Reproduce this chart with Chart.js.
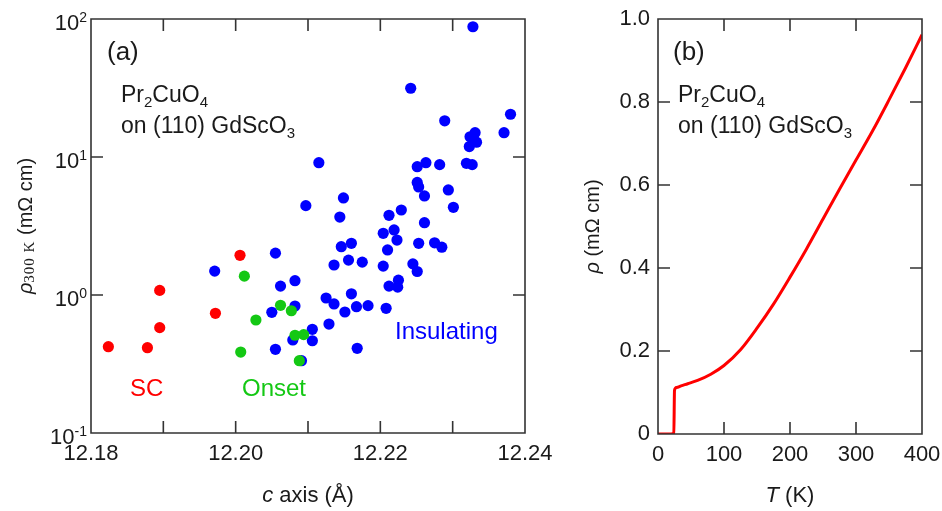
<!DOCTYPE html>
<html>
<head>
<meta charset="utf-8">
<script src="https://cdn.jsdelivr.net/npm/chart.js@4.4.0/dist/chart.umd.min.js"></script>
<style>
  html, body { margin: 0; padding: 0; background: #fff; }
  #wrap { position: relative; width: 942px; height: 511px; }
  #chartA { position: absolute; left: 0; top: 0; }
  #chartB { position: absolute; left: 545px; top: 0; }
</style>
</head>
<body>
<div id="wrap">
  <canvas id="chartA" width="565" height="511"></canvas>
  <canvas id="chartB" width="397" height="511"></canvas>
</div>
<script>
// (a) c axis length vs room temperature resistivity
const scX = [12.1824, 12.1878, 12.1895, 12.1895, 12.1972, 12.2006];
const scY = [0.422, 0.415, 0.580, 1.08, 0.737, 1.94];

const onsetX = [12.2007, 12.2012, 12.2028, 12.2062, 12.2077, 12.2082, 12.2088, 12.2094];
const onsetY = [0.386, 1.37, 0.659, 0.842, 0.769, 0.511, 0.334, 0.516];

const insX = [12.1971, 12.2050, 12.2055, 12.2055, 12.2062, 12.2079, 12.2082, 12.2082,
  12.2091, 12.2097, 12.2106, 12.2106, 12.2115, 12.2125, 12.2129, 12.2136, 12.2136,
  12.2144, 12.2146, 12.2149, 12.2151, 12.2156, 12.2160, 12.2160, 12.2167, 12.2168,
  12.2175, 12.2183, 12.2204, 12.2204, 12.2208, 12.2210, 12.2212, 12.2212, 12.2219,
  12.2223, 12.2224, 12.2225, 12.2229, 12.2242, 12.2245, 12.2251, 12.2251, 12.2251,
  12.2253, 12.2253, 12.2261, 12.2261, 12.2263, 12.2275, 12.2282, 12.2285, 12.2289,
  12.2294, 12.2301, 12.2319, 12.2323, 12.2324, 12.2327, 12.2328, 12.2331, 12.2333,
  12.2371, 12.2380];
const insY = [1.49, 0.749, 2.01, 0.404, 1.16, 0.472, 1.27, 0.832,
  0.334, 4.44, 0.564, 0.466, 9.09, 0.951, 0.616, 1.65, 0.861,
  3.67, 2.24, 5.05, 0.753, 1.79, 2.37, 1.02, 0.823, 0.411,
  1.73, 0.837, 2.80, 1.62, 0.801, 2.12, 3.78, 1.16, 2.96,
  2.50, 1.14, 1.28, 4.13, 31.5, 1.68, 8.51, 6.54, 1.48,
  6.06, 2.37, 5.22, 3.34, 9.09, 2.39, 8.80, 2.22, 18.3,
  5.77, 4.32, 9.0, 11.9, 14.0, 8.80, 87.9, 15.0, 12.8,
  15.0, 20.4];

const cAxisTicks = [12.18, 12.19, 12.20, 12.21, 12.22, 12.23, 12.24];
const cAxisLabels = ['12.18', '', '12.20', '', '12.22', '', '12.24'];
const rhoDecades = [0.1, 1, 10, 100];
const rhoDecadeExp = ['-1', '0', '1', '2'];

// (b) resistivity vs temperature
const tempK = [0, 10, 20, 24, 25, 28, 35, 45, 60, 80, 100, 125, 150, 175, 200,
  225, 250, 275, 300, 325, 350, 375, 400];
const rhoT = [0, 0, 0, 0.002, 0.105, 0.112, 0.116, 0.121, 0.129, 0.144, 0.165,
  0.203, 0.255, 0.313, 0.378, 0.446, 0.518, 0.590, 0.660, 0.730, 0.805, 0.882, 0.962];

const tTicks = [0, 100, 200, 300, 400];
const rhoTicks = [0, 0.2, 0.4, 0.6, 0.8, 1.0];
const rhoTickLabels = ['0', '0.2', '0.4', '0.6', '0.8', '1.0'];

const SANS = '"Liberation Sans", Arial, sans-serif';
const SERIF = '"Liberation Serif", "Times New Roman", serif';
const INK = '#1a1a1a';

function richText(ctx, parts, x, y, align) {
  let w = 0;
  parts.forEach(p => {
    ctx.font = p.font;
    ctx.letterSpacing = p.spacing || '0px';
    w += ctx.measureText(p.text).width;
  });
  let cx = align === 'center' ? x - w / 2 : align === 'right' ? x - w : x;
  ctx.textAlign = 'left';
  ctx.textBaseline = 'alphabetic';
  parts.forEach(p => {
    ctx.font = p.font;
    ctx.letterSpacing = p.spacing || '0px';
    ctx.fillStyle = p.color || INK;
    ctx.fillText(p.text, cx, y + (p.dy || 0));
    cx += ctx.measureText(p.text).width;
  });
  ctx.letterSpacing = '0px';
}

function sampleLabel(ctx, x, y) {
  richText(ctx, [
    { text: 'Pr', font: '23px ' + SANS },
    { text: '2', font: '15px ' + SANS, dy: 5 },
    { text: 'CuO', font: '23px ' + SANS },
    { text: '4', font: '15px ' + SANS, dy: 5 }
  ], x, y, 'left');
  richText(ctx, [
    { text: 'on (110) GdScO', font: '23px ' + SANS },
    { text: '3', font: '15px ' + SANS, dy: 5 }
  ], x, y + 31, 'left');
}

// box round the plot area, with inward ticks on all four sides
function drawFrame(chart) {
  const { ctx, chartArea: a } = chart;
  const x = chart.scales.x, y = chart.scales.y;
  ctx.save();
  ctx.strokeStyle = '#333333';
  ctx.lineWidth = 1.6;
  ctx.beginPath();
  ctx.rect(a.left, a.top, a.right - a.left, a.bottom - a.top);
  x.ticks.forEach(t => {
    const px = x.getPixelForValue(t.value);
    ctx.moveTo(px, a.bottom); ctx.lineTo(px, a.bottom - 12);
    ctx.moveTo(px, a.top); ctx.lineTo(px, a.top + 12);
  });
  y.ticks.forEach(t => {
    const py = y.getPixelForValue(t.value);
    ctx.moveTo(a.left, py); ctx.lineTo(a.left + 12, py);
    ctx.moveTo(a.right, py); ctx.lineTo(a.right - 12, py);
  });
  ctx.stroke();
  ctx.restore();
}

const textA = {
  id: 'textA',
  afterDraw(chart) {
    drawFrame(chart);
    const { ctx, chartArea: a } = chart;
    const y = chart.scales.y;
    ctx.save();
    // decade tick labels with superscripts
    y.ticks.forEach((t, i) => {
      const py = y.getPixelForValue(t.value);
      richText(ctx, [
        { text: '10', font: '22px ' + SANS },
        { text: rhoDecadeExp[i], font: '14px ' + SANS, dy: -8 }
      ], a.left - 4, py + 11, 'right');
    });
    richText(ctx, [{ text: '(a)', font: '26px ' + SANS }], 107, 60, 'left');
    sampleLabel(ctx, 121, 102);
    richText(ctx, [{ text: 'SC', font: '24px ' + SANS, color: '#ff0000' }], 130, 396, 'left');
    richText(ctx, [{ text: 'Onset', font: '24px ' + SANS, color: '#14c814' }], 242, 396, 'left');
    richText(ctx, [{ text: 'Insulating', font: '24px ' + SANS, color: '#0000ff' }], 395, 339, 'left');
    richText(ctx, [
      { text: 'c', font: 'italic 22px ' + SANS },
      { text: ' axis (Å)', font: '22px ' + SANS }
    ], (a.left + a.right) / 2, 502, 'center');
    ctx.translate(32, (a.top + a.bottom) / 2);
    ctx.rotate(-Math.PI / 2);
    richText(ctx, [
      { text: 'ρ', font: 'italic 20px ' + SANS },
      { text: '300 K', font: '15px ' + SERIF, dy: 2, spacing: '1px' },
      { text: ' (mΩ cm)', font: '20px ' + SANS }
    ], 0, 0, 'center');
    ctx.restore();
  }
};

const textB = {
  id: 'textB',
  afterDraw(chart) {
    drawFrame(chart);
    const { ctx, chartArea: a } = chart;
    ctx.save();
    richText(ctx, [{ text: '(b)', font: '26px ' + SANS }], a.left + 15, 60, 'left');
    sampleLabel(ctx, a.left + 20, 102);
    richText(ctx, [
      { text: 'T', font: 'italic 22px ' + SANS },
      { text: ' (K)', font: '22px ' + SANS }
    ], (a.left + a.right) / 2, 502, 'center');
    ctx.translate(a.left - 59, (a.top + a.bottom) / 2);
    ctx.rotate(-Math.PI / 2);
    richText(ctx, [
      { text: 'ρ', font: 'italic 20px ' + SANS },
      { text: ' (mΩ cm)', font: '20px ' + SANS }
    ], 0, 0, 'center');
    ctx.restore();
  }
};

const toPoints = (xs, ys) => xs.map((v, i) => ({ x: v, y: ys[i] }));
const noGrid = { display: false, drawTicks: false };

// fixed axis sizes; drop the extra room Chart.js keeps for overhanging labels
const fitX = h => s => { s.height = h; s.paddingLeft = 0; s.paddingRight = 0; };
const fitY = w => s => { s.width = w; s.paddingTop = 0; s.paddingBottom = 0; };

new Chart(document.getElementById('chartA').getContext('2d'), {
  type: 'scatter',
  data: {
    datasets: [
      { label: 'Onset', data: toPoints(onsetX, onsetY), backgroundColor: '#14c814', order: 1 },
      { label: 'SC', data: toPoints(scX, scY), backgroundColor: '#ff0000', order: 2 },
      { label: 'Insulating', data: toPoints(insX, insY), backgroundColor: '#0000ff', order: 3 }
    ]
  },
  options: {
    responsive: false,
    animation: false,
    layout: { padding: { left: 0, right: 40, top: 19, bottom: 0 } },
    elements: { point: { radius: 5.6, borderWidth: 0, hoverRadius: 5.6 } },
    plugins: { legend: { display: false }, tooltip: { enabled: false } },
    scales: {
      x: {
        type: 'linear', min: 12.18, max: 12.24,
        afterBuildTicks: s => { s.ticks = cAxisTicks.map(v => ({ value: v })); },
        afterFit: fitX(78),
        grid: noGrid, border: { display: false },
        ticks: {
          callback: (v, i) => cAxisLabels[i],
          autoSkip: false, maxRotation: 0, padding: 8,
          color: INK, font: { family: SANS, size: 22 }
        }
      },
      y: {
        type: 'logarithmic', min: 0.1, max: 100,
        afterBuildTicks: s => { s.ticks = rhoDecades.map(v => ({ value: v })); },
        afterFit: fitY(91),
        grid: noGrid, border: { display: false },
        ticks: { display: false }
      }
    }
  },
  plugins: [textA]
});

new Chart(document.getElementById('chartB').getContext('2d'), {
  type: 'line',
  data: {
    datasets: [{
      label: 'rho', data: toPoints(tempK, rhoT),
      borderColor: '#ff0000', borderWidth: 3, pointRadius: 0,
      cubicInterpolationMode: 'monotone', fill: false
    }]
  },
  options: {
    responsive: false,
    animation: false,
    layout: { padding: { left: 0, right: 20, top: 19, bottom: 0 } },
    plugins: { legend: { display: false }, tooltip: { enabled: false } },
    scales: {
      x: {
        type: 'linear', min: 0, max: 400,
        afterBuildTicks: s => { s.ticks = tTicks.map(v => ({ value: v })); },
        afterFit: fitX(77),
        grid: noGrid, border: { display: false },
        ticks: {
          autoSkip: false, maxRotation: 0, padding: 8,
          color: INK, font: { family: SANS, size: 22 }
        }
      },
      y: {
        type: 'linear', min: 0, max: 1,
        afterBuildTicks: s => { s.ticks = rhoTicks.map(v => ({ value: v })); },
        afterFit: fitY(113),
        grid: noGrid, border: { display: false },
        ticks: {
          callback: (v, i) => rhoTickLabels[i],
          autoSkip: false, padding: 8,
          color: INK, font: { family: SANS, size: 22 }
        }
      }
    }
  },
  plugins: [textB]
});
</script>
</body>
</html>
